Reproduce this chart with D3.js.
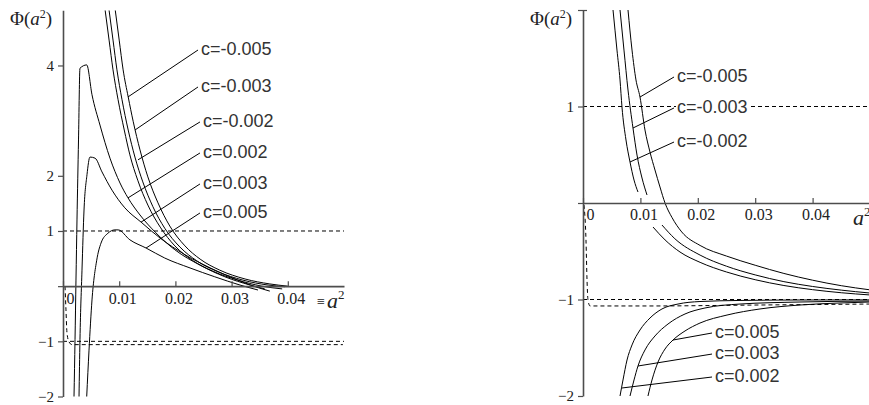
<!DOCTYPE html>
<html>
<head>
<meta charset="utf-8">
<script src="https://cdn.jsdelivr.net/npm/d3@7"></script>
<style>
  body { margin: 0; background: #fff; }
  svg { display: block; }
</style>
</head>
<body>
<svg id="chart" width="869" height="405"></svg>
<script>
// Values: [a^2, Phi(a^2)]

const xTicks = [0, 0.01, 0.02, 0.03, 0.04];
const leftYTicks = [-2, -1, 0, 1, 2, 4];
const rightYTicks = [-2, -1, 0, 1, 2];
const refLevels = [1, -1];

// left panel
const leftCm005 = [[0.0093,5.0],[0.0100,4.46],[0.0107,3.92],[0.0116,3.43],[0.0125,2.98],[0.0137,2.47],[0.0151,1.98],[0.0169,1.51],[0.0190,1.09],[0.0217,0.73],[0.0244,0.49],[0.0279,0.29],[0.0324,0.13],[0.0368,0.04],[0.0400,0.0]];
const leftCm003 = [[0.0082,5.0],[0.0089,4.46],[0.0096,3.92],[0.0105,3.38],[0.0116,2.83],[0.0128,2.34],[0.0142,1.89],[0.0160,1.44],[0.0181,1.05],[0.0208,0.71],[0.0238,0.46],[0.0276,0.26],[0.0320,0.11],[0.0365,0.02],[0.0395,-0.01]];
const leftCm002 = [[0.0075,5.0],[0.0082,4.46],[0.0089,3.92],[0.0098,3.38],[0.0109,2.83],[0.0119,2.38],[0.0133,1.92],[0.0151,1.47],[0.0173,1.07],[0.0199,0.73],[0.0230,0.47],[0.0267,0.27],[0.0311,0.11],[0.0354,0.0],[0.0390,-0.05]];
const leftCp002 = [[0.00196,-2.0],[0.00214,-0.97],[0.00231,0.11],[0.00249,1.20],[0.00276,2.65],[0.00302,3.95],[0.00422,4.01],[0.00516,3.47],[0.00658,2.92],[0.00836,2.32],[0.01014,1.87],[0.01157,1.60],[0.0137,1.29],[0.0164,0.98],[0.0199,0.66],[0.0244,0.38],[0.0288,0.17],[0.0333,0.02],[0.0359,-0.05]];
const leftCp003 = [[0.00285,-2.0],[0.00302,-0.97],[0.00338,0.29],[0.00374,1.38],[0.00427,2.02],[0.0048,2.34],[0.0057,2.32],[0.00694,2.07],[0.00872,1.74],[0.0110,1.42],[0.0139,1.16],[0.0173,0.87],[0.0217,0.57],[0.0262,0.33],[0.0306,0.13],[0.0342,-0.01],[0.0368,-0.09]];
const leftCp005 = [[0.00422,-2.0],[0.00463,-1.16],[0.00516,-0.25],[0.0060,0.47],[0.00676,0.78],[0.0080,0.96],[0.00925,1.02],[0.0098,1.02],[0.0119,0.84],[0.0148,0.69],[0.0181,0.51],[0.0226,0.33],[0.0270,0.17],[0.0315,0.02],[0.0347,-0.07]];
const leftDash = [[0.00036,0],[0.00053,-0.43],[0.00071,-0.85],[0.00107,-1.01],[0.0016,-1.06],[0.0498,-1.06]];

// right panel (null = gap in the curve)
const rightCm005 = [[0.00784,2.0],[0.00854,1.585],[0.00923,1.275],[0.00993,1.098],[0.0108,0.756],[0.01167,0.528],[0.01254,0.342],[0.01341,0.166],[0.01429,0.0],[0.0155,-0.15],[0.0172,-0.30],[0.0204,-0.44],[0.025,-0.55],[0.030,-0.645],[0.035,-0.73],[0.040,-0.80],[0.045,-0.857],[0.05,-0.90]];
const rightCm003 = [[0.00645,2.0],[0.00714,1.585],[0.00784,1.171],[0.00871,0.777],[0.00941,0.497],[0.01028,0.259],[0.01115,0.083],null,[0.01376,-0.228],[0.0160,-0.37],[0.0204,-0.54],[0.025,-0.655],[0.030,-0.745],[0.035,-0.815],[0.040,-0.865],[0.045,-0.903],[0.05,-0.933]];
const rightCm002 = [[0.00523,2.0],[0.00592,1.585],[0.00645,1.275],[0.00679,0.995],[0.00749,0.653],[0.00819,0.425],[0.00889,0.238],[0.00958,0.114],null,[0.0122,-0.249],[0.0143,-0.383],[0.0169,-0.508],[0.0204,-0.615],[0.025,-0.715],[0.030,-0.795],[0.035,-0.855],[0.040,-0.898],[0.045,-0.93],[0.05,-0.953]];
const rightCp002 = [[0.00645,-2.0],[0.00697,-1.834],[0.00767,-1.627],[0.00854,-1.471],[0.00993,-1.316],[0.01167,-1.192],[0.01376,-1.098],[0.01655,-1.047],[0.02038,-1.021],[0.02735,-1.01],[0.0378,-1.005],[0.05,-1.004]];
const rightCp003 = [[0.00819,-2.0],[0.00889,-1.834],[0.00958,-1.689],[0.0108,-1.523],[0.01254,-1.378],[0.01481,-1.254],[0.01777,-1.15],[0.02125,-1.088],[0.02735,-1.047],[0.0378,-1.026],[0.05,-1.016]];
const rightCp005 = [[0.01132,-2.0],[0.01202,-1.834],[0.01307,-1.648],[0.01429,-1.513],[0.01568,-1.42],[0.01777,-1.326],[0.02038,-1.244],[0.02509,-1.161],[0.03084,-1.098],[0.0378,-1.057],[0.04477,-1.036],[0.05,-1.026]];
const rightDash = [[0.00017,-0.02],[0.00052,-0.383],[0.0007,-0.798],[0.00087,-1.005],[0.00122,-1.067],[0.01167,-1.067],[0.03084,-1.057],[0.05,-1.047]];

// curve labels: text anchor and the point the leader line goes to
const leftLabels = ["c=-0.005", "c=-0.003", "c=-0.002", "c=0.002", "c=0.003", "c=0.005"];
const leftLabelAt = [[0.02456,4.19],[0.02456,3.52],[0.02491,2.886],[0.02491,2.324],[0.02491,1.762],[0.02491,1.236]];
const leftLabelTo = [[0.01157,3.43],[0.01281,2.83],[0.01335,2.29],[0.01157,1.60],[0.01388,1.16],[0.01477,0.69]];
const rightLabels = ["c=-0.005", "c=-0.003", "c=-0.002", "c=0.005", "c=0.003", "c=0.002"];
const rightLabelAt = [[0.01638,1.254],[0.01638,0.933],[0.01638,0.58],[0.0230,-1.399],[0.0230,-1.617],[0.0230,-1.855]];
const rightLabelTo = [[0.00993,1.098],[0.00871,0.777],[0.00819,0.425],[0.01568,-1.42],[0.00958,-1.689],[0.00679,-1.917]];

const svg = d3.select('#chart');
const serif = '"Liberation Serif", "Times New Roman", serif';
const sans = '"Liberation Sans", Arial, sans-serif';
const axisColor = '#4d4d4d';

const panels = [
    {
        id: 'left', xRange: [63, 344], yDomain: [-2, 5], yRange: [396.5, 10.3],
        yTicks: leftYTicks, hideY: [0],
        curves: [leftCm005, leftCm003, leftCm002, leftCp002, leftCp003, leftCp005],
        dash: leftDash, labels: leftLabels, labelAt: leftLabelAt, labelTo: leftLabelTo,
        extraMark: true
    },
    {
        id: 'right', xRange: [583, 870], yDomain: [-2, 2], yRange: [396, 10],
        yTicks: rightYTicks, hideY: [0, 2],
        curves: [rightCm005, rightCm003, rightCm002, rightCp002, rightCp003, rightCp005],
        dash: rightDash, labels: rightLabels, labelAt: rightLabelAt, labelTo: rightLabelTo,
        extraMark: false
    }
];

function fmtY(d) {
    return d < 0 ? '\u2212' + Math.abs(d) : String(d);
}

panels.forEach(p => {
    const x = d3.scaleLinear().domain([0, 0.05]).range(p.xRange);
    const y = d3.scaleLinear().domain(p.yDomain).range(p.yRange);
    const g = svg.append('g').attr('class', p.id);

    g.append('clipPath').attr('id', 'clip-' + p.id)
        .append('rect')
        .attr('x', p.xRange[0]).attr('y', p.yRange[1])
        .attr('width', p.xRange[1] - p.xRange[0])
        .attr('height', p.yRange[0] - p.yRange[1] + 1);

    const line = d3.line()
        .defined(d => d !== null)
        .x(d => x(d[0]))
        .y(d => y(d[1]))
        .curve(d3.curveMonotoneX);

    const plot = g.append('g').attr('clip-path', `url(#clip-${p.id})`);

    // dashed reference levels
    plot.selectAll('.ref')
        .data(refLevels)
        .enter()
        .append('line')
        .attr('x1', x(0)).attr('x2', x(0.05))
        .attr('y1', d => y(d)).attr('y2', d => y(d))
        .attr('stroke', '#000')
        .attr('stroke-width', 1)
        .attr('stroke-dasharray', '4,3');

    plot.append('path')
        .attr('d', line(p.dash))
        .attr('fill', 'none')
        .attr('stroke', '#000')
        .attr('stroke-width', 1)
        .attr('stroke-dasharray', '4,3');

    // curves
    plot.selectAll('.curve')
        .data(p.curves)
        .enter()
        .append('path')
        .attr('class', 'curve')
        .attr('d', d => line(d))
        .attr('fill', 'none')
        .attr('stroke', '#000')
        .attr('stroke-width', 1);

    // axes
    const yAxis = d3.axisLeft(y)
        .tickValues(p.yTicks)
        .tickSizeInner(5)
        .tickSizeOuter(0)
        .tickPadding(4)
        .tickFormat(d => p.hideY.includes(d) ? '' : fmtY(d));

    const yG = g.append('g')
        .attr('transform', `translate(${x(0)},0)`)
        .call(yAxis);

    const xAxis = d3.axisBottom(x)
        .tickValues(xTicks)
        .tickSizeInner(-5)
        .tickSizeOuter(0)
        .tickPadding(6)
        .tickFormat(d => d === 0 ? '0' : d.toFixed(2));

    const xG = g.append('g')
        .attr('transform', `translate(0,${y(0)})`)
        .call(xAxis);

    [yG, xG].forEach(a => {
        a.select('.domain').attr('stroke', axisColor).attr('stroke-width', 1.6);
        a.selectAll('.tick line').attr('stroke', axisColor).attr('stroke-width', 1.2);
        a.selectAll('.tick text')
            .attr('fill', '#222')
            .style('font-family', serif);
    });
    yG.selectAll('.tick text').style('font-size', '15px');
    xG.selectAll('.tick text').style('font-size', '16px')
        .attr('dx', d => d === 0 ? 7 : 3);

    // top end tick of right axis
    if (p.id === 'right') {
        yG.selectAll('.tick').filter(d => d === 2).select('line')
            .attr('x1', 4);
    }

    // axis titles
    const yTitle = g.append('text')
        .attr('x', x(0) - 53)
        .attr('y', p.yRange[1] + 15)
        .style('font-family', serif)
        .style('font-size', '19px')
        .attr('fill', '#222');
    yTitle.append('tspan').text('\u03A6(');
    yTitle.append('tspan').style('font-style', 'italic').text('a');
    yTitle.append('tspan').attr('dy', -7).style('font-size', '12px').text('2');
    yTitle.append('tspan').attr('dy', 7).text(')');

    const xTitle = g.append('text')
        .attr('x', p.xRange[1] - 17)
        .attr('y', y(0) + 22)
        .style('font-family', serif)
        .style('font-size', '22px')
        .attr('fill', '#222');
    xTitle.append('tspan').style('font-style', 'italic').text('a');
    xTitle.append('tspan').attr('dy', -9).style('font-size', '13px').text('2');

    if (p.extraMark) {
        g.append('text')
            .attr('x', p.xRange[1] - 27)
            .attr('y', y(0) + 20)
            .style('font-family', serif)
            .style('font-size', '14px')
            .attr('fill', '#222')
            .text('\u2261');
    }

    // curve labels with leader lines
    const lab = g.append('g').attr('class', 'labels');
    p.labels.forEach((txt, i) => {
        const tx = x(p.labelAt[i][0]);
        const ty = y(p.labelAt[i][1]);
        const t = lab.append('text')
            .attr('x', tx)
            .attr('y', ty)
            .style('font-family', sans)
            .style('font-size', '18px')
            .attr('fill', '#333')
            .text(txt);
        const bb = t.node().getBBox();
        lab.insert('rect', 'text')
            .attr('x', bb.x - 1).attr('y', bb.y + 2)
            .attr('width', bb.width + 2).attr('height', bb.height - 4)
            .attr('fill', '#fff');
        lab.append('line')
            .attr('x1', tx - 3).attr('y1', ty - 5)
            .attr('x2', x(p.labelTo[i][0])).attr('y2', y(p.labelTo[i][1]))
            .attr('stroke', '#000')
            .attr('stroke-width', 1);
    });
});
</script>
</body>
</html>
